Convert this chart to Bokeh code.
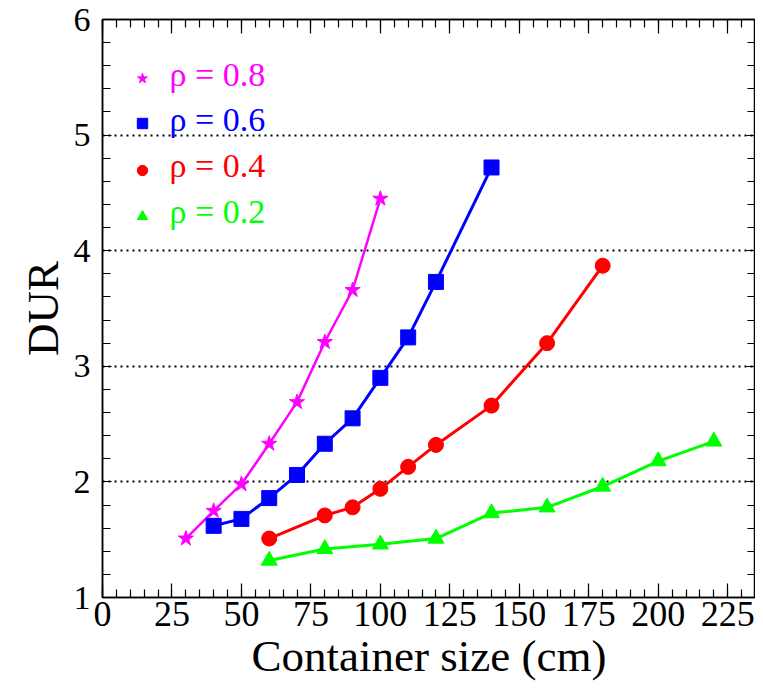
from bokeh.plotting import figure
from bokeh.models import (Range1d, LinearAxis, SingleIntervalTicker, Legend, LegendItem,
                          FixedTicker, Label)
from bokeh.embed import file_html
from bokeh.resources import INLINE

# ---- data ----
x08 = [30, 40, 50, 60, 70, 80, 90, 100]
y08 = [1.51, 1.75, 1.98, 2.33, 2.69, 3.21, 3.66, 4.45]

x06 = [40, 50, 60, 70, 80, 90, 100, 110, 120, 140]
y06 = [1.62, 1.68, 1.86, 2.06, 2.33, 2.55, 2.90, 3.25, 3.73, 4.72]

x04 = [60, 80, 90, 100, 110, 120, 140, 160, 180]
y04 = [1.51, 1.71, 1.78, 1.94, 2.13, 2.32, 2.66, 3.20, 3.87]

x02 = [60, 80, 100, 120, 140, 160, 180, 200, 220]
y02 = [1.32, 1.42, 1.46, 1.51, 1.73, 1.78, 1.96, 2.18, 2.35]

labels = ["\u03c1 = 0.8", "\u03c1 = 0.6", "\u03c1 = 0.4", "\u03c1 = 0.2"]
x_ticks = [0, 25, 50, 75, 100, 125, 150, 175, 200, 225]
y_ticks = [1, 2, 3, 4, 5, 6]
x_title = "Container size (cm)"
y_title = "DUR"

FONT = "Liberation Serif"
XMAX = 235

p = figure(width=755, height=683, output_backend="svg", toolbar_location=None,
           x_range=Range1d(0, XMAX), y_range=Range1d(1, 6),
           x_axis_label=x_title, y_axis_label=y_title,
           min_border_left=102, min_border_right=0, min_border_top=19,
           min_border_bottom=86)
p.outline_line_color = "black"
p.outline_line_width = 1.5
p.background_fill_color = "white"
p.border_fill_color = "white"

# grid
p.xgrid.grid_line_color = None
p.ygrid.ticker = FixedTicker(ticks=[2, 3, 4, 5])
p.ygrid.grid_line_color = "black"
p.ygrid.grid_line_dash = "2 4"
p.ygrid.grid_line_width = 2.2

def style_axis(ax):
    ax.axis_line_color = "black"
    ax.axis_line_width = 1.5
    ax.major_tick_in = 14
    ax.major_tick_out = 0
    ax.minor_tick_in = 8
    ax.minor_tick_out = 0
    ax.major_tick_line_color = "black"
    ax.minor_tick_line_color = "black"
    ax.major_tick_line_width = 1.2
    ax.minor_tick_line_width = 1.2
    ax.major_label_text_font = FONT
    ax.major_label_text_font_size = "36px"
    ax.major_label_text_color = "black"
    ax.axis_label_text_font = FONT
    ax.axis_label_text_font_style = "normal"
    ax.axis_label_text_font_size = "45px"
    ax.axis_label_text_color = "black"

minor_x = list(range(0, 240, 5))

xb = p.xaxis[0]
xb.ticker = FixedTicker(ticks=x_ticks, minor_ticks=minor_x)
style_axis(xb)
xb.major_label_standoff = 4
xb.axis_label_text_font_size = "45px"
xb.axis_label_standoff = 2

yl = p.yaxis[0]
yl.ticker = SingleIntervalTicker(interval=1, num_minor_ticks=5)
style_axis(yl)
yl.major_label_text_font_size = "34px"
yl.major_tick_in = 9
yl.major_label_standoff = 12
yl.axis_label_standoff = 3

top = LinearAxis(ticker=FixedTicker(ticks=x_ticks, minor_ticks=minor_x))
style_axis(top)
top.major_label_overrides = {t: "" for t in x_ticks}
top.major_label_text_font_size = "1px"
top.major_label_standoff = 0
p.add_layout(top, "above")

# right-hand ticks: an extra y axis drawn at the right edge of the frame
right = LinearAxis(ticker=SingleIntervalTicker(interval=1, num_minor_ticks=5),
                   fixed_location=XMAX)
style_axis(right)
right.major_tick_in = 0
right.major_tick_out = 9
right.minor_tick_in = 0
right.minor_tick_out = 8
right.major_label_overrides = {t: "" for t in y_ticks}
right.major_label_text_font_size = "1px"
right.major_label_standoff = 0
p.add_layout(right, "left")

series = [
    (x08, y08, "#ff00ff", "star", 16, 2.5),
    (x06, y06, "#0000ff", "square", 15, 3),
    (x04, y04, "#ff0000", "circle", 15, 3),
    (x02, y02, "#00ff00", "triangle", 16, 3),
]

marker_renderers = []
for xs, ys, col, mk, sz, lw in series:
    p.line(xs, ys, line_color=col, line_width=lw)
    r = p.scatter(xs, ys, marker=mk, size=sz, fill_color=col, line_color=col)
    marker_renderers.append(r)

# legend: symbol via a Legend (one per series), coloured text via a Label
glyph_rows = [504, 459, 412, 366]
text_rows = [523, 478, 432, 386]
for r, lab, (xs, ys, col, mk, sz, lw), gy, ty in zip(marker_renderers, labels, series,
                                                    glyph_rows, text_rows):
    lg = Legend(items=[LegendItem(label="", renderers=[r])], location=(27, gy),
                background_fill_alpha=0, border_line_alpha=0, padding=0, margin=0,
                glyph_width=26, glyph_height=30, label_standoff=0, spacing=0,
                label_height=30, label_width=0)
    p.add_layout(lg, "center")
    p.add_layout(Label(x=67, y=ty, x_units="screen", y_units="screen", text=lab,
                       text_font=FONT, text_font_size="34px", text_color=col,
                       text_baseline="middle", text_align="left"))

open("out.html", "w").write(file_html(p, INLINE))
